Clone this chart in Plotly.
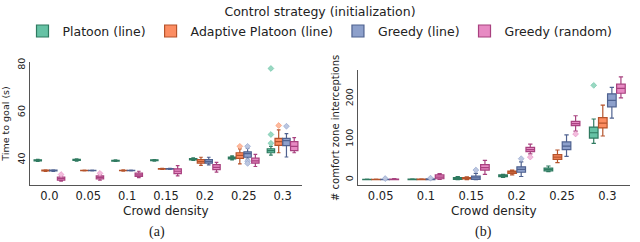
import plotly.graph_objects as go

# ---------------- data ----------------
strategies = ["Platoon (line)", "Adaptive Platoon (line)", "Greedy (line)", "Greedy (random)"]
fill_colors = ["#66c2a5", "#fc8d62", "#8da0cb", "#e78ac3"]
line_colors = ["#2f7a60", "#b5532b", "#4f6290", "#a8417f"]
outlier_colors = ["#9ad8c2", "#fdbb9f", "#bcc7e0", "#f2bddd"]

dens_a = ["0.0", "0.05", "0.1", "0.15", "0.2", "0.25", "0.3"]
dens_b = ["0.05", "0.1", "0.15", "0.2", "0.25", "0.3"]

# (a) Time to goal (s): q1, median, q3, lower whisker, upper whisker
time_q1 = [
    [39.6, 39.8, 39.5, 39.7, 40.0, 40.4, 43.0],
    [35.3, 35.4, 35.4, 36.1, 38.6, 40.6, 46.1],
    [35.3, 35.4, 35.4, 36.1, 38.6, 41.1, 46.0],
    [31.4, 32.0, 33.0, 34.2, 35.9, 38.6, 43.9],
]
time_med = [
    [39.8, 40.0, 39.7, 39.9, 40.3, 40.8, 43.9],
    [35.5, 35.5, 35.5, 36.2, 39.3, 41.9, 47.7],
    [35.5, 35.5, 35.5, 36.2, 39.3, 42.6, 48.1],
    [32.1, 32.6, 33.7, 35.2, 36.8, 39.6, 45.7],
]
time_q3 = [
    [40.0, 40.2, 39.8, 40.0, 40.5, 41.2, 44.7],
    [35.7, 35.6, 35.6, 36.3, 40.1, 43.0, 49.1],
    [35.7, 35.6, 35.6, 36.3, 40.1, 43.4, 49.1],
    [32.7, 33.2, 34.4, 36.2, 38.0, 40.7, 47.7],
]
time_lo = [
    [39.4, 39.5, 39.4, 39.5, 39.8, 40.0, 42.0],
    [35.1, 35.3, 35.2, 36.0, 37.7, 38.3, 43.0],
    [35.1, 35.3, 35.3, 36.0, 37.9, 40.3, 41.2],
    [31.0, 31.4, 32.5, 33.2, 34.8, 37.2, 43.0],
]
time_hi = [
    [40.2, 40.4, 40.0, 40.1, 40.8, 41.7, 45.7],
    [35.8, 35.7, 35.8, 36.4, 41.1, 44.6, 52.7],
    [35.8, 35.7, 35.7, 36.4, 41.1, 45.0, 51.1],
    [33.3, 33.9, 35.2, 37.6, 38.9, 42.3, 49.4],
]
time_out_cat = [["0.3", "0.3", "0.3"], ["0.25", "0.3"], ["0.25", "0.25", "0.25", "0.3"], ["0.0", "0.05"]]
time_out_val = [[47.0, 50.7, 78.6], [45.7, 54.5], [45.7, 39.5, 38.5, 54.2], [33.8, 34.3]]

# (b) # comfort zone interceptions
cz_q1 = [
    [0.2, 0.5, 1.0, 7.5, 22.0, 103.0],
    [0.2, 0.5, 2.0, 15.5, 50.5, 128.0],
    [0.3, 0.5, 1.0, 18.5, 74.5, 180.0],
    [0.3, 2.5, 24.0, 69.5, 133.5, 213.5],
]
cz_med = [
    [0.5, 1.0, 3.0, 9.6, 25.6, 116.0],
    [0.5, 1.0, 4.0, 18.5, 56.0, 140.0],
    [0.8, 1.0, 5.0, 25.5, 83.0, 196.0],
    [1.0, 6.5, 30.0, 74.5, 138.5, 225.5],
]
cz_q3 = [
    [0.8, 1.5, 5.5, 12.0, 29.0, 130.0],
    [0.8, 1.5, 5.5, 21.5, 62.0, 153.5],
    [1.3, 2.0, 9.0, 32.0, 93.5, 212.0],
    [1.7, 12.0, 37.5, 80.0, 144.0, 236.0],
]
cz_lo = [
    [0.0, 0.0, 0.0, 6.0, 20.0, 90.0],
    [0.0, 0.0, 0.5, 12.0, 42.5, 108.0],
    [0.0, 0.0, 0.0, 8.0, 57.5, 152.0],
    [0.0, 1.0, 13.5, 64.0, 120.0, 202.0],
]
cz_hi = [
    [1.5, 2.0, 7.5, 13.5, 34.0, 150.0],
    [1.5, 2.0, 7.0, 24.0, 73.5, 184.0],
    [2.0, 3.0, 16.0, 44.0, 111.0, 228.0],
    [3.0, 15.0, 48.0, 88.0, 158.0, 254.0],
]
cz_out_cat = [["0.3"], [], ["0.05", "0.1", "0.15", "0.2"], ["0.2", "0.25"]]
cz_out_val = [[233.0], [], [3.0, 4.0, 24.0, 52.0], [56.0, 113.0]]

# ---------------- figure ----------------
FONT = "DejaVu Sans"
offsets = [-0.3, -0.1, 0.1, 0.3]
BOXW = 0.19
W, H = 640, 242

fig = go.Figure()


def add_panel(cats, q1, med, q3, lo, hi, out_cat, out_val, xa, ya, legend):
    for k in range(4):
        pos = [i + offsets[k] for i in range(len(cats))]
        fig.add_trace(go.Box(
            x=pos, q1=q1[k], median=med[k], q3=q3[k],
            lowerfence=lo[k], upperfence=hi[k],
            width=BOXW, whiskerwidth=0.5, boxpoints=False,
            fillcolor=fill_colors[k], line=dict(color=line_colors[k], width=1.2),
            name=strategies[k], legendgroup=strategies[k], showlegend=legend,
            xaxis=xa, yaxis=ya,
        ))
        if out_val[k]:
            ox = [cats.index(c) + offsets[k] for c in out_cat[k]]
            fig.add_trace(go.Scatter(
                x=ox, y=out_val[k], mode="markers", showlegend=False,
                marker=dict(symbol="diamond", size=4.5, color=outlier_colors[k],
                            line=dict(color=fill_colors[k], width=0.6)),
                xaxis=xa, yaxis=ya, hoverinfo="skip",
            ))


add_panel(dens_a, time_q1, time_med, time_q3, time_lo, time_hi, time_out_cat, time_out_val, "x", "y", True)
add_panel(dens_b, cz_q1, cz_med, cz_q3, cz_lo, cz_hi, cz_out_cat, cz_out_val, "x2", "y2", False)

axis_common = dict(showline=True, linecolor="#555555", linewidth=1, showgrid=False,
                   zeroline=False, ticks="", automargin=False)
xtick = dict(family=FONT, size=11.5, color="#222")
ytick = dict(family=FONT, size=9.5, color="#222")


def ann(text, xref, x, ypix, family, size):
    return dict(text=text, x=x, y=(H - ypix) / H, xref=xref, yref="paper",
                showarrow=False, xanchor="center", yanchor="middle",
                font=dict(family=family, size=size, color="#222"))


fig.update_layout(
    width=W, height=H,
    margin=dict(l=0, r=0, t=0, b=0),
    paper_bgcolor="white", plot_bgcolor="white",
    font=dict(family=FONT, color="#222"),
    xaxis=dict(domain=[30 / W, 302 / W], anchor="y", range=[-0.5, len(dens_a) - 0.5],
               tickvals=list(range(len(dens_a))), ticktext=dens_a, tickfont=xtick, **axis_common),
    yaxis=dict(domain=[(H - 184) / H, (H - 57) / H], anchor="x", range=[29.2, 81.5],
               tickvals=[40, 60, 80], tickangle=-90, tickfont=ytick,
               title=dict(text="Time to goal (s)", font=dict(size=9.5), standoff=4), **axis_common),
    xaxis2=dict(domain=[358 / W, 630 / W], anchor="y2", range=[-0.5, len(dens_b) - 0.5],
                tickvals=list(range(len(dens_b))), ticktext=dens_b, tickfont=xtick, **axis_common),
    yaxis2=dict(domain=[(H - 184) / H, (H - 66) / H], anchor="x2", range=[-14, 270],
                tickvals=[0, 100, 200], tickangle=-90, tickfont=ytick,
                title=dict(text="# comfort zone interceptions", font=dict(size=10), standoff=2),
                **axis_common),
    legend=dict(orientation="h", x=0.5, xanchor="center", y=1.025, yanchor="top",
                font=dict(family=FONT, size=12.5, color="#222"), itemwidth=30,
                title=dict(text="Control strategy (initialization)", side="top center",
                           font=dict(family=FONT, size=12.5, color="#222")),
                bgcolor="rgba(0,0,0,0)", tracegroupgap=0),
    annotations=[
        ann("Crowd density", "x domain", 0.5, 210, FONT, 12),
        ann("Crowd density", "x2 domain", 0.5, 210, FONT, 12),
        ann("(a)", "paper", 157 / W, 232, "Liberation Serif", 14),
        ann("(b)", "paper", 483 / W, 232, "Liberation Serif", 14),
    ],
)

fig.write_html("out.html", config={"displayModeBar": False},
               post_script="document.body.style.margin='0';")
